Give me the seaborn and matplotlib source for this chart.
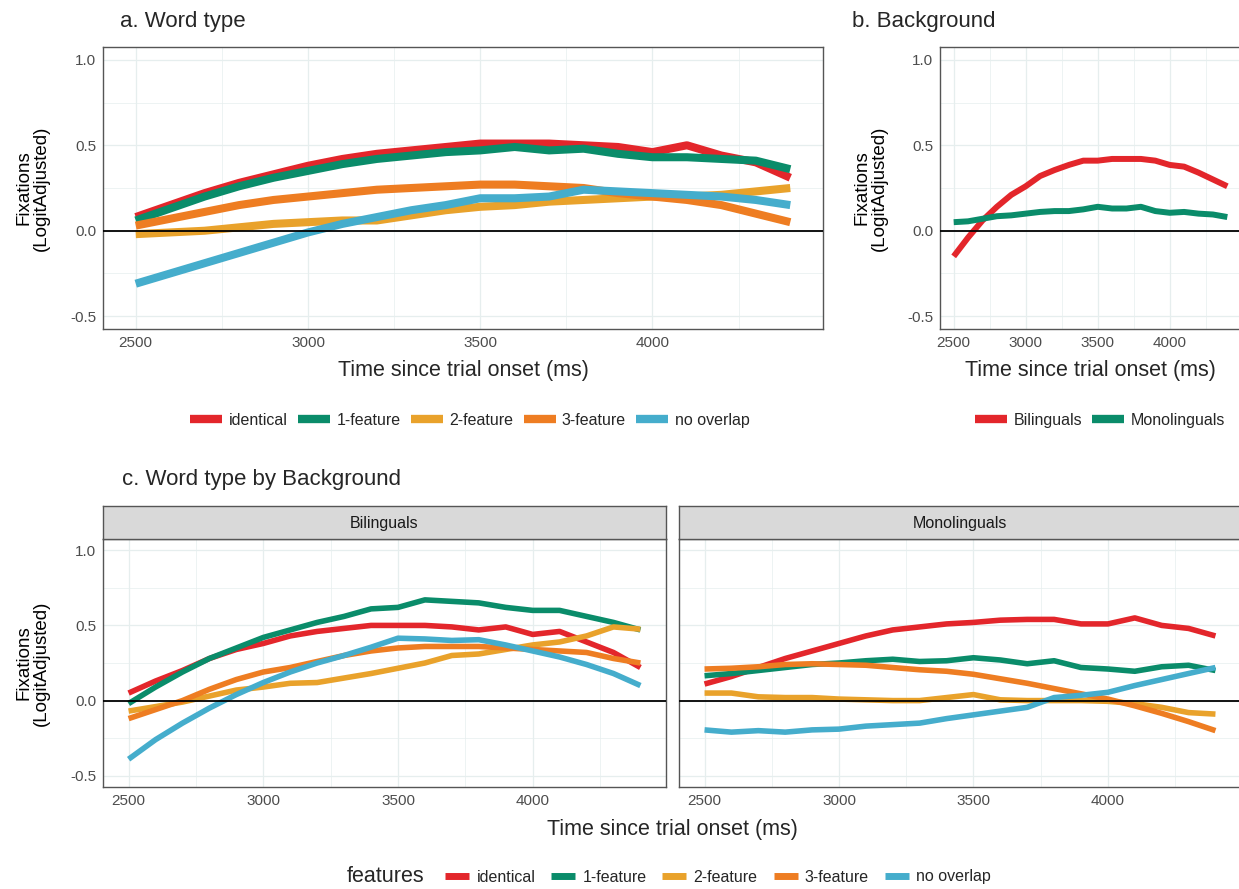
import numpy as np
import pandas as pd
import matplotlib
matplotlib.use("Agg")
import matplotlib.pyplot as plt
from matplotlib.lines import Line2D
import seaborn as sns

# ---- data ----
time_ms = list(range(2500, 4401, 100))

features = ["identical", "1-feature", "2-feature", "3-feature", "no overlap"]
backgrounds = ["Bilinguals", "Monolinguals"]

# a. Word type
a_identical = [0.08, 0.15, 0.22, 0.28, 0.33, 0.38, 0.42, 0.45, 0.47, 0.49,
               0.51, 0.51, 0.51, 0.50, 0.49, 0.46, 0.50, 0.44, 0.40, 0.31]
a_one = [0.06, 0.13, 0.20, 0.26, 0.31, 0.35, 0.39, 0.42, 0.44, 0.46,
         0.47, 0.49, 0.47, 0.48, 0.45, 0.43, 0.43, 0.42, 0.41, 0.36]
a_two = [-0.02, -0.01, 0.00, 0.02, 0.04, 0.05, 0.06, 0.06, 0.09, 0.12,
         0.14, 0.15, 0.17, 0.18, 0.19, 0.20, 0.20, 0.21, 0.23, 0.25]
a_three = [0.03, 0.07, 0.11, 0.15, 0.18, 0.20, 0.22, 0.24, 0.25, 0.26,
           0.27, 0.27, 0.26, 0.25, 0.22, 0.20, 0.18, 0.15, 0.10, 0.05]
a_none = [-0.31, -0.25, -0.19, -0.13, -0.07, -0.01, 0.04, 0.08, 0.12, 0.15,
          0.19, 0.19, 0.20, 0.24, 0.23, 0.22, 0.21, 0.20, 0.18, 0.15]

# b. Background
b_bil = [-0.15, -0.04, 0.06, 0.14, 0.21, 0.26, 0.32, 0.355, 0.385, 0.41,
         0.41, 0.42, 0.42, 0.42, 0.41, 0.385, 0.375, 0.34, 0.30, 0.26]
b_mono = [0.05, 0.055, 0.07, 0.085, 0.09, 0.10, 0.11, 0.115, 0.115, 0.125,
          0.14, 0.13, 0.13, 0.14, 0.115, 0.105, 0.11, 0.10, 0.095, 0.08]

# c. Word type by Background - Bilinguals
c_bil_identical = [0.05, 0.13, 0.20, 0.28, 0.34, 0.38, 0.43, 0.46, 0.48, 0.50,
                   0.50, 0.50, 0.49, 0.47, 0.49, 0.44, 0.46, 0.39, 0.32, 0.22]
c_bil_one = [-0.02, 0.09, 0.19, 0.28, 0.35, 0.42, 0.47, 0.52, 0.56, 0.61,
             0.62, 0.67, 0.66, 0.65, 0.62, 0.60, 0.60, 0.56, 0.52, 0.47]
c_bil_two = [-0.07, -0.04, -0.01, 0.03, 0.07, 0.09, 0.115, 0.12, 0.15, 0.18,
             0.215, 0.25, 0.30, 0.31, 0.34, 0.37, 0.39, 0.43, 0.49, 0.475]
c_bil_three = [-0.12, -0.06, 0.00, 0.075, 0.14, 0.19, 0.22, 0.26, 0.30, 0.33,
               0.35, 0.36, 0.36, 0.36, 0.35, 0.34, 0.33, 0.32, 0.28, 0.25]
c_bil_none = [-0.39, -0.26, -0.15, -0.05, 0.04, 0.12, 0.19, 0.25, 0.30, 0.355,
              0.415, 0.41, 0.40, 0.405, 0.37, 0.33, 0.29, 0.24, 0.18, 0.10]

# c. Word type by Background - Monolinguals
c_mono_identical = [0.11, 0.16, 0.22, 0.28, 0.33, 0.38, 0.43, 0.47, 0.49, 0.51,
                    0.52, 0.535, 0.54, 0.54, 0.51, 0.51, 0.55, 0.50, 0.48, 0.43]
c_mono_one = [0.165, 0.18, 0.20, 0.22, 0.24, 0.25, 0.265, 0.275, 0.26, 0.265,
              0.285, 0.27, 0.245, 0.265, 0.22, 0.21, 0.195, 0.225, 0.235, 0.20]
c_mono_two = [0.05, 0.05, 0.025, 0.02, 0.02, 0.01, 0.005, 0.0, 0.0, 0.02,
              0.04, 0.005, 0.0, 0.0, 0.0, -0.005, -0.02, -0.045, -0.08, -0.09]
c_mono_three = [0.21, 0.215, 0.225, 0.24, 0.245, 0.24, 0.235, 0.22, 0.205, 0.195,
                0.175, 0.145, 0.115, 0.08, 0.045, 0.01, -0.035, -0.085, -0.14, -0.20]
c_mono_none = [-0.195, -0.21, -0.20, -0.21, -0.195, -0.19, -0.17, -0.16, -0.15, -0.12,
               -0.095, -0.07, -0.045, 0.02, 0.035, 0.055, 0.10, 0.14, 0.18, 0.22]

palette = {
    "identical": "#E3262B",
    "1-feature": "#0A8C6A",
    "2-feature": "#E9A22B",
    "3-feature": "#EE7D22",
    "no overlap": "#45ADCC",
    "Bilinguals": "#E3262B",
    "Monolinguals": "#0A8C6A",
}


def long_frame(series, names, group_col):
    rows = []
    for name, vals in zip(names, series):
        for t, v in zip(time_ms, vals):
            rows.append({"time": t, "value": v, group_col: name})
    return pd.DataFrame(rows)


df_a = long_frame([a_identical, a_one, a_two, a_three, a_none], features, "features")
df_b = long_frame([b_bil, b_mono], backgrounds, "background")
df_c_bil = long_frame([c_bil_identical, c_bil_one, c_bil_two, c_bil_three, c_bil_none],
                      features, "features")
df_c_mono = long_frame([c_mono_identical, c_mono_one, c_mono_two, c_mono_three, c_mono_none],
                       features, "features")

# ---- figure ----
sns.set_style("white")
plt.rcParams["font.family"] = ["Liberation Sans", "DejaVu Sans"]
plt.rcParams["lines.solid_capstyle"] = "butt"
plt.rcParams["lines.solid_joinstyle"] = "round"

W, H = 1239, 889
fig = plt.figure(figsize=(W / 100, H / 100), dpi=100)
fig.patch.set_facecolor("white")


def rect(l, t, r, b):
    return [l / W, 1 - b / H, (r - l) / W, (b - t) / H]


def fx(px):
    return px / W


def fy(py):
    return 1 - py / H


GRID = "#E6EEEE"
TICK_COLOR = "#4D4D4D"
XLAB = "Time since trial onset (ms)"
YLAB = "Fixations\n(LogitAdjusted)"


def style_axes(ax, ylabel_x=None):
    ax.set_xlim(2405, 4495)
    ax.set_ylim(-0.575, 1.075)
    ax.set_xticks([2500, 3000, 3500, 4000])
    ax.set_xticks([2750, 3250, 3750, 4250], minor=True)
    ax.set_yticks([-0.5, 0.0, 0.5, 1.0])
    ax.set_yticks([-0.25, 0.25, 0.75], minor=True)
    ax.set_yticklabels(["-0.5", "0.0", "0.5", "1.0"])
    ax.grid(True, which="major", color=GRID, lw=0.9, zorder=0)
    ax.grid(True, which="minor", color=GRID, lw=0.5, zorder=0)
    ax.set_axisbelow(True)
    ax.tick_params(axis="both", which="major", labelsize=11, colors="#333333",
                   labelcolor=TICK_COLOR, length=3, width=1, direction="out", pad=2)
    ax.tick_params(axis="both", which="minor", length=0)
    for s in ax.spines.values():
        s.set_color("#555555")
        s.set_linewidth(1.0)
        s.set_visible(True)
    ax.axhline(0, color="black", lw=1.3, zorder=5)
    ax.set_xlabel("")
    ax.set_ylabel("")
    if ylabel_x is not None:
        ax.set_ylabel(YLAB, fontsize=13.5, color="black", linespacing=1.0)
        ax.yaxis.set_label_coords(ylabel_x, 0.5)


# a. Word type
ax_a = fig.add_axes(rect(103, 47, 823, 329))
sns.lineplot(data=df_a, x="time", y="value", hue="features", hue_order=features,
             palette=palette, linewidth=5.8, legend=False, ax=ax_a)
style_axes(ax_a, ylabel_x=(50 - 103) / 720)
fig.text(fx(120), fy(22), "a. Word type", fontsize=16, ha="left", va="center")
fig.text(fx(463), fy(371), XLAB, fontsize=15.5, ha="center", va="center")

# b. Background
ax_b = fig.add_axes(rect(940, 47, 1241, 329))
sns.lineplot(data=df_b, x="time", y="value", hue="background", hue_order=backgrounds,
             palette=palette, linewidth=4.3, legend=False, ax=ax_b)
style_axes(ax_b, ylabel_x=(888 - 940) / 301)
fig.text(fx(852), fy(22), "b. Background", fontsize=16, ha="left", va="center")
fig.text(fx(1090), fy(371), XLAB, fontsize=15.5, ha="center", va="center")

# c. Word type by Background (facets)
ax_c1 = fig.add_axes(rect(103, 539, 666, 787))
ax_c2 = fig.add_axes(rect(679, 539, 1241, 787))
sns.lineplot(data=df_c_bil, x="time", y="value", hue="features", hue_order=features,
             palette=palette, linewidth=4.0, legend=False, ax=ax_c1)
sns.lineplot(data=df_c_mono, x="time", y="value", hue="features", hue_order=features,
             palette=palette, linewidth=4.0, legend=False, ax=ax_c2)
style_axes(ax_c1, ylabel_x=(50 - 103) / 563)
style_axes(ax_c2)
ax_c2.tick_params(axis="y", which="both", left=False, labelleft=False)

for (l, r), label in zip([(103, 666), (679, 1241)], backgrounds):
    sax = fig.add_axes(rect(l, 506, r, 539))
    sax.set_facecolor("#D9D9D9")
    sax.set_xticks([])
    sax.set_yticks([])
    for s in sax.spines.values():
        s.set_color("#555555")
        s.set_linewidth(1.0)
    sax.text(0.5, 0.48, label, transform=sax.transAxes, ha="center", va="center",
             fontsize=11.5, color="#1A1A1A")

fig.text(fx(122), fy(480), "c. Word type by Background", fontsize=16,
         ha="left", va="center")
fig.text(fx(672), fy(830), XLAB, fontsize=15.5, ha="center", va="center")


# legends
def handles(names, lw):
    return [Line2D([0], [0], color=palette[n], lw=lw, solid_capstyle="butt") for n in names]


leg_kw = dict(loc="center", frameon=False, fontsize=11.5, handlelength=2.0,
              handletextpad=0.4, columnspacing=0.65)
fig.legend(handles(features, 6), features, bbox_to_anchor=(fx(470), fy(420)),
           ncol=5, **leg_kw)
fig.legend(handles(backgrounds, 6), backgrounds, bbox_to_anchor=(fx(1100), fy(420)),
           ncol=2, **leg_kw)
fig.text(fx(386), fy(877), "features", fontsize=15.5, ha="center", va="center")
fig.legend(handles(features, 5), features, bbox_to_anchor=(fx(718), fy(877)),
           ncol=5, loc="center", frameon=False, fontsize=11.5, handlelength=1.5,
           handletextpad=0.45, columnspacing=1.0)

fig.savefig("out.png", dpi=100, facecolor="white")
